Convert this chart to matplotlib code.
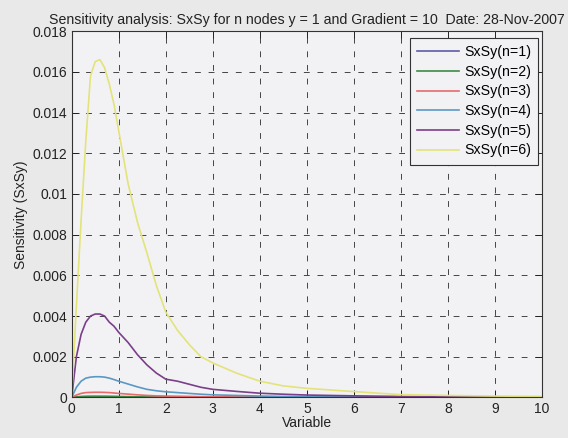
import matplotlib
matplotlib.use("Agg")
import matplotlib.pyplot as plt

# sample points along "Variable"
x = [0, 0.1, 0.2, 0.3, 0.4, 0.5, 0.6, 0.7, 0.8, 0.9, 1.0, 1.2, 1.4, 1.6, 1.8,
     2.0, 2.25, 2.5, 2.75, 3.0, 3.5, 4.0, 4.5, 5.0, 6, 7, 8, 9, 10]

s6 = [0, 0.0045, 0.0087, 0.0126, 0.0158, 0.0165, 0.0166, 0.0162, 0.0154, 0.0144,
      0.0131, 0.0105, 0.0086, 0.0071, 0.0055, 0.0042, 0.0033, 0.0026, 0.0020,
      0.0017, 0.0012, 0.0008, 0.00057, 0.00045, 0.00029, 0.00014, 0.0001,
      0.00007, 0.00005]
s5 = [0, 0.0020, 0.0031, 0.0037, 0.0040, 0.0041, 0.0041, 0.0040, 0.0037, 0.0035,
      0.0032, 0.0027, 0.0021, 0.0016, 0.0012, 0.0009, 0.0008, 0.00065, 0.0005,
      0.0004, 0.0003, 0.00021, 0.00016, 0.00012, 0.00008, 0.00005, 0.00003,
      0.00002, 0.00002]
s4 = [0, 0.0005, 0.0008, 0.00095, 0.001, 0.00102, 0.00102, 0.001, 0.00095,
      0.00088, 0.0008, 0.00066, 0.00052, 0.0004, 0.00033, 0.00028, 0.00024,
      0.0002, 0.00016, 0.00013, 0.0001, 0.00007, 0.00005, 0.00004, 0.00003,
      0.00002, 0.00001, 0.00001, 0.00001]
s3 = [0, 0.00012, 0.0002, 0.00024, 0.00025, 0.000256, 0.000256, 0.00025,
      0.00024, 0.00022, 0.0002, 0.000165, 0.00013, 0.0001, 0.00008, 0.00007,
      0.00006, 0.00005, 0.00004, 0.000032, 0.000025, 0.000018, 0.000012,
      0.00001, 0.000008, 0.000005, 0.000003, 0.000003, 0.000002]
s2 = [0, 0.00003, 0.00005, 0.00006, 0.000063, 0.000064, 0.000064, 0.000062,
      0.00006, 0.000055, 0.00005, 0.000041, 0.000033, 0.000025, 0.00002,
      0.000018, 0.000015, 0.000012, 0.00001, 0.000008, 0.000006, 0.000004,
      0.000003, 0.000003, 0.000002, 0.000001, 0.000001, 0.000001, 0.000001]
s1 = [0, 0.000008, 0.000012, 0.000015, 0.000016, 0.000016, 0.000016, 0.000016,
      0.000015, 0.000014, 0.000012, 0.00001, 0.000008, 0.000006, 0.000005,
      0.000004, 0.000004, 0.000003, 0.000003, 0.000002, 0.000002, 0.000001,
      0.000001, 0.000001, 0, 0, 0, 0, 0]

series = [s1, s2, s3, s4, s5, s6]
labels = ["SxSy(n=%d)" % n for n in range(1, 7)]
colors = ["#5c5ca6", "#3f8a45", "#e86a6a", "#5a98c4", "#7a3f88", "#e3e37a"]

xticks = list(range(0, 11))
yticks = [0, 0.002, 0.004, 0.006, 0.008, 0.01, 0.012, 0.014, 0.016, 0.018]
ytick_labels = ["0", "0.002", "0.004", "0.006", "0.008", "0.01", "0.012",
                "0.014", "0.016", "0.018"]

plt.rcParams['font.family'] = ['Liberation Sans', 'DejaVu Sans']

fig = plt.figure(figsize=(5.68, 4.38), dpi=100, facecolor='#e9e9ea')
ax = fig.add_axes([0.1262, 0.0925, 0.828, 0.8365])
ax.set_facecolor('#f2f2f5')

for ys, lab, col in zip(series, labels, colors):
    ax.plot(x, ys, color=col, linewidth=1.2, label=lab)

ax.set_xlim(0, 10)
ax.set_ylim(0, 0.018)
ax.set_xticks(xticks)
ax.set_yticks(yticks)
ax.set_yticklabels(ytick_labels)
ax.tick_params(direction='in', top=True, right=True, length=5, width=0.7,
               labelsize=10, colors='#222222', pad=3)
for sp in ax.spines.values():
    sp.set_color('#333333')
    sp.set_linewidth(0.8)
ax.grid(True, linestyle=(0, (6, 8)), color='#444444', linewidth=0.7)

ax.set_xlabel("Variable", fontsize=10, color='#222222', labelpad=0)
ax.set_ylabel("Sensitivity (SxSy)", fontsize=10, color='#222222', labelpad=3)
ax.set_title("Sensitivity analysis: SxSy for n nodes y = 1 and Gradient = 10  Date: 28-Nov-2007",
             fontsize=10.2, color='#222222', pad=5)

leg = ax.legend(loc='upper right', bbox_to_anchor=(0.992, 0.981),
                fontsize=10.2, fancybox=False, framealpha=1,
                facecolor='#f2f2f5', edgecolor='#333333', handlelength=2.95,
                handletextpad=0.35, borderaxespad=0, labelspacing=0.4,
                borderpad=0.5)
leg.get_frame().set_linewidth(0.8)

fig.savefig("out.png", dpi=100, facecolor=fig.get_facecolor())
